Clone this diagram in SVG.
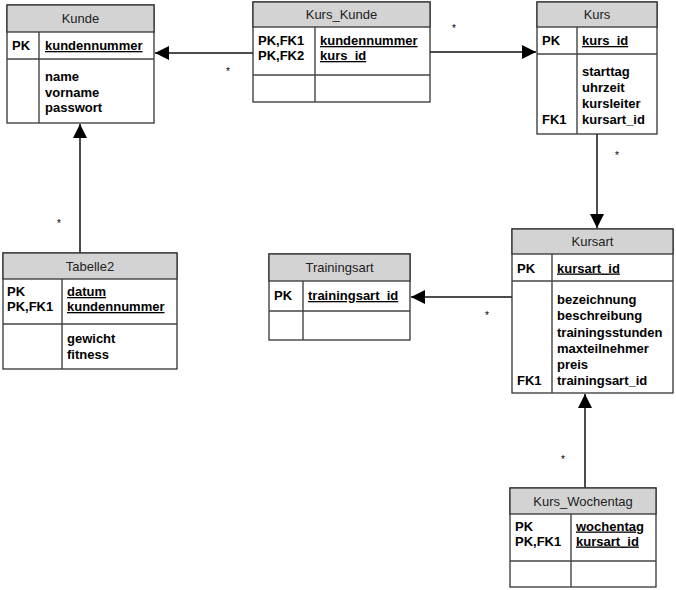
<svg xmlns="http://www.w3.org/2000/svg" width="676" height="590" viewBox="0 0 676 590">
<style>
.box{fill:#fff;stroke:#333;stroke-width:1.3}
.hdr{fill:#d3d3d3;stroke:#333;stroke-width:1.3}
.sep{stroke:#444;stroke-width:1.4;fill:none}
.title{font-family:"Liberation Sans",Arial,sans-serif;font-size:13px;fill:#222;text-anchor:middle}
.f{font-family:"Liberation Sans",Arial,sans-serif;font-size:13px;font-weight:bold;fill:#000}
.u{text-decoration:underline}
.conn{stroke:#111;stroke-width:1.5;fill:none}
.star{font-family:"Liberation Sans",Arial,sans-serif;font-size:10px;fill:#000;text-anchor:middle}
</style>
<defs>
<marker id="arr" viewBox="0 0 14 14" refX="14" refY="7" markerWidth="14" markerHeight="14" markerUnits="userSpaceOnUse" orient="auto">
<path d="M0,0 L14,7 L0,14 Z" fill="#000"/>
</marker>
</defs>
<rect width="676" height="590" fill="#fff"/>

<g id="connectors">
<line class="conn" x1="253" y1="53" x2="155" y2="53" marker-end="url(#arr)"/>
<line class="conn" x1="430" y1="52" x2="536" y2="52" marker-end="url(#arr)"/>
<line class="conn" x1="597" y1="134" x2="597" y2="228" marker-end="url(#arr)"/>
<line class="conn" x1="80" y1="253" x2="80" y2="124" marker-end="url(#arr)"/>
<line class="conn" x1="512" y1="297" x2="411" y2="297" marker-end="url(#arr)"/>
<line class="conn" x1="585" y1="488" x2="585" y2="394" marker-end="url(#arr)"/>
<text class="star" x="228" y="75">*</text>
<text class="star" x="454" y="32">*</text>
<text class="star" x="617" y="159">*</text>
<text class="star" x="59" y="227">*</text>
<text class="star" x="487" y="319">*</text>
<text class="star" x="563" y="463">*</text>
</g>

<g id="Kunde">
<rect class="box" x="7" y="5" width="147" height="118"/>
<rect class="hdr" x="7" y="5" width="147" height="27"/>
<line class="sep" x1="7" y1="59" x2="154" y2="59"/>
<line class="sep" x1="39" y1="32" x2="39" y2="123"/>
<text class="title" x="80.5" y="23">Kunde</text>
<text class="f" x="12" y="50">PK</text>
<text class="f u" x="45" y="50">kundennummer</text>
<text class="f" x="45" y="81">name</text>
<text class="f" x="45" y="97">vorname</text>
<text class="f" x="45" y="112">passwort</text>
</g>

<g id="Kurs_Kunde">
<rect class="box" x="253" y="2" width="177" height="100"/>
<rect class="hdr" x="253" y="2" width="177" height="25"/>
<line class="sep" x1="253" y1="75" x2="430" y2="75"/>
<line class="sep" x1="315" y1="27" x2="315" y2="102"/>
<text class="title" x="341.5" y="19">Kurs_Kunde</text>
<text class="f" x="258" y="45">PK,FK1</text>
<text class="f" x="258" y="60">PK,FK2</text>
<text class="f u" x="320" y="45">kundennummer</text>
<text class="f u" x="320" y="60">kurs_id</text>
</g>

<g id="Kurs">
<rect class="box" x="537" y="2" width="120" height="132"/>
<rect class="hdr" x="537" y="2" width="120" height="25"/>
<line class="sep" x1="537" y1="54" x2="657" y2="54"/>
<line class="sep" x1="577" y1="27" x2="577" y2="134"/>
<text class="title" x="597" y="19">Kurs</text>
<text class="f" x="542" y="45">PK</text>
<text class="f u" x="582" y="45">kurs_id</text>
<text class="f" x="582" y="76">starttag</text>
<text class="f" x="582" y="92">uhrzeit</text>
<text class="f" x="582" y="108">kursleiter</text>
<text class="f" x="542" y="124">FK1</text>
<text class="f" x="582" y="124">kursart_id</text>
</g>

<g id="Tabelle2">
<rect class="box" x="3" y="253" width="174" height="116"/>
<rect class="hdr" x="3" y="253" width="174" height="26"/>
<line class="sep" x1="3" y1="324" x2="177" y2="324"/>
<line class="sep" x1="62" y1="279" x2="62" y2="369"/>
<text class="title" x="90" y="270.5">Tabelle2</text>
<text class="f" x="7" y="296">PK</text>
<text class="f" x="7" y="311">PK,FK1</text>
<text class="f u" x="67" y="296">datum</text>
<text class="f u" x="67" y="311">kundennummer</text>
<text class="f" x="67" y="343">gewicht</text>
<text class="f" x="67" y="359">fitness</text>
</g>

<g id="Trainingsart">
<rect class="box" x="269" y="254" width="141" height="86"/>
<rect class="hdr" x="269" y="254" width="141" height="27"/>
<line class="sep" x1="269" y1="311" x2="410" y2="311"/>
<line class="sep" x1="303" y1="281" x2="303" y2="340"/>
<text class="title" x="339.5" y="272">Trainingsart</text>
<text class="f" x="274" y="300">PK</text>
<text class="f u" x="308" y="300">trainingsart_id</text>
</g>

<g id="Kursart">
<rect class="box" x="512" y="229" width="161" height="164"/>
<rect class="hdr" x="512" y="229" width="161" height="25"/>
<line class="sep" x1="512" y1="281" x2="673" y2="281"/>
<line class="sep" x1="552" y1="254" x2="552" y2="393"/>
<text class="title" x="592.5" y="246">Kursart</text>
<text class="f" x="517" y="272.5">PK</text>
<text class="f u" x="557" y="272.5">kursart_id</text>
<text class="f" x="557" y="304">bezeichnung</text>
<text class="f" x="557" y="320">beschreibung</text>
<text class="f" x="557" y="336.5">trainingsstunden</text>
<text class="f" x="557" y="352.5">maxteilnehmer</text>
<text class="f" x="557" y="369">preis</text>
<text class="f" x="517" y="385">FK1</text>
<text class="f" x="557" y="385">trainingsart_id</text>
</g>

<g id="Kurs_Wochentag">
<rect class="box" x="510" y="488" width="146" height="99"/>
<rect class="hdr" x="510" y="488" width="146" height="26"/>
<line class="sep" x1="510" y1="561" x2="656" y2="561"/>
<line class="sep" x1="571" y1="514" x2="571" y2="587"/>
<text class="title" x="583" y="505.5">Kurs_Wochentag</text>
<text class="f" x="515" y="530.5">PK</text>
<text class="f" x="515" y="545.5">PK,FK1</text>
<text class="f u" x="576" y="530.5">wochentag</text>
<text class="f u" x="576" y="545.5">kursart_id</text>
</g>
</svg>
